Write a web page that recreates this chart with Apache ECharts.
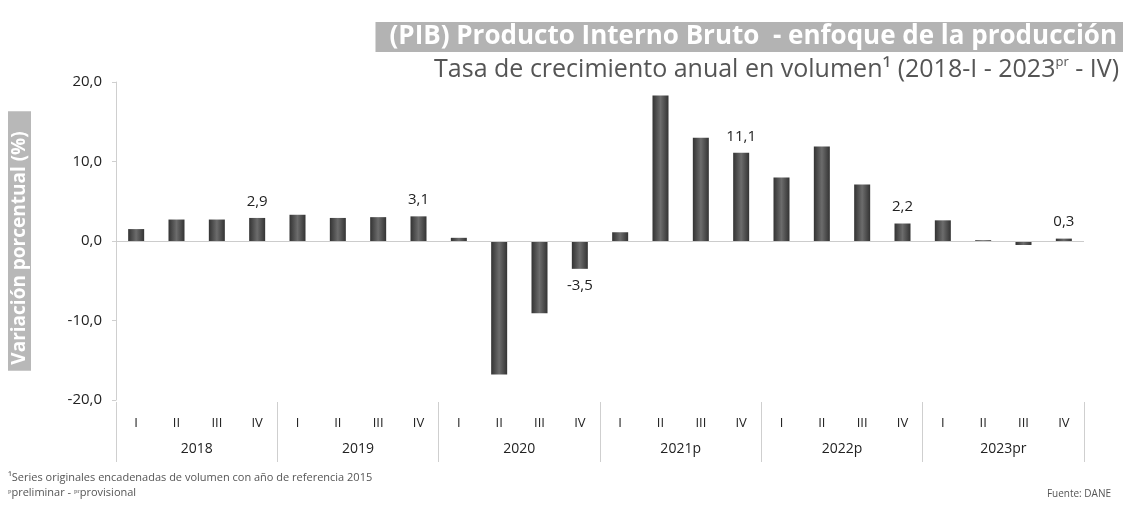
<!DOCTYPE html>
<html>
<head>
<meta charset="utf-8">
<script src="https://cdn.jsdelivr.net/npm/echarts@6/dist/echarts.min.js"></script>
<style>
html,body{margin:0;padding:0;background:#fff;}
#chart{width:1123px;height:506px;}
</style>
</head>
<body>
<div id="chart"></div>
<script>
const years = ['2018', '2019', '2020', '2021p', '2022p', '2023pr'];
const quarters = ['I', 'II', 'III', 'IV'];
const growth = [
  1.5, 2.7, 2.7, 2.9,
  3.3, 2.9, 3.0, 3.1,
  0.4, -16.8, -9.1, -3.5,
  1.1, 18.3, 13.0, 11.1,
  8.0, 11.9, 7.1, 2.2,
  2.6, 0.1, -0.5, 0.3
];
const yTicks = { min: -20, max: 20, interval: 10 };
const labeledQuarter = 'IV';

const categories = [];
years.forEach(y => quarters.forEach(q => categories.push(y + '|' + q)));

const fmt = v => v.toFixed(1).replace('.', ',');

const barData = growth.map((v, i) => {
  const q = categories[i].split('|')[1];
  const show = q === labeledQuarter;
  return {
    value: v,
    label: {
      show: show,
      position: v < 0 ? 'bottom' : 'top',
      distance: 9
    }
  };
});

const chart = echarts.init(document.getElementById('chart'), null, { renderer: 'canvas' });
const barGrad = new echarts.graphic.LinearGradient(0, 0, 1, 0, [
  { offset: 0, color: '#333333' },
  { offset: 0.5, color: '#6c6c6c' },
  { offset: 1, color: '#333333' }
]);

chart.setOption({
  backgroundColor: '#ffffff',
  animation: false,
  title: [
    {
      text: '(PIB) Producto Interno Bruto  - enfoque de la producción',
      right: 0,
      top: 22,
      backgroundColor: '#b3b3b3',
      padding: [1, 6, 1, 14],
      textStyle: {
        color: '#ffffff',
        fontFamily: 'Open Sans',
        fontWeight: 'bold',
        fontSize: 26,
        lineHeight: 28
      }
    },
    {
      text: 'Tasa de crecimiento anual en volumen¹ (2018-I - 2023{sup|pr} - IV)',
      right: 4,
      top: 56,
      padding: 0,
      textStyle: {
        color: '#555555',
        fontFamily: 'Open Sans',
        fontWeight: 'normal',
        fontSize: 25,
        rich: {
          sup: { fontSize: 13, color: '#555555', fontFamily: 'Open Sans', padding: [0, 0, 14, 0] }
        }
      }
    }
  ],
  grid: { left: 110, right: 39, top: 82, bottom: 106, containLabel: false },
  xAxis: [
    {
      type: 'category',
      data: categories,
      position: 'bottom',
      axisLine: { show: false },
      axisTick: { show: false },
      axisLabel: {
        interval: 0,
        margin: 17,
        fontSize: 13,
        color: '#222222',
        fontFamily: 'Open Sans',
        formatter: v => v.split('|')[1]
      }
    },
    {
      type: 'category',
      data: years,
      position: 'bottom',
      offset: 62,
      axisLine: { show: false },
      axisTick: { show: true, inside: true, length: 60, interval: 0, lineStyle: { color: '#cfcfcf', width: 1 } },
      axisLabel: {
        inside: true,
        interval: 0,
        margin: 6,
        fontSize: 14,
        color: '#222222',
        fontFamily: 'Open Sans'
      }
    }
  ],
  yAxis: {
    type: 'value',
    min: yTicks.min,
    max: yTicks.max,
    interval: yTicks.interval,
    name: 'Variación porcentual (%)',
    nameLocation: 'middle',
    nameRotate: 90,
    nameGap: 85,
    nameTextStyle: {
      color: '#ffffff',
      fontSize: 19,
      fontFamily: 'Open Sans',
      fontWeight: 'bold',
      backgroundColor: '#b8b8b8',
      padding: [2, 20, 2, 6]
    },
    axisLine: { show: true, lineStyle: { color: '#cfcfcf', width: 1 } },
    axisTick: { show: true, length: 4, lineStyle: { color: '#cfcfcf' } },
    splitLine: { show: false },
    axisLabel: {
      margin: 14,
      fontSize: 15,
      color: '#222222',
      fontFamily: 'Open Sans',
      formatter: v => fmt(v)
    }
  },
  series: [
    {
      type: 'bar',
      xAxisIndex: 0,
      data: barData,
      barWidth: 16,
      itemStyle: { color: barGrad },
      label: {
        fontSize: 15,
        color: '#222222',
        fontFamily: 'Open Sans',
        formatter: p => fmt(p.value)
      },
      markLine: {
        silent: true,
        symbol: 'none',
        label: { show: false },
        lineStyle: { color: '#cccccc', type: 'solid', width: 1 },
        data: [{ yAxis: 0 }]
      }
    }
  ],
  graphic: [
    {
      type: 'text',
      left: 8,
      top: 472,
      style: {
        text: '¹Series originales encadenadas de volumen con año de referencia 2015',
        fontSize: 11,
        fontFamily: 'Open Sans',
        fill: '#555555'
      }
    },
    {
      type: 'text',
      left: 8,
      top: 487,
      style: {
        text: 'ᵖpreliminar - ᵖʳprovisional',
        fontSize: 11,
        fontFamily: 'Open Sans',
        fill: '#555555'
      }
    },
    {
      type: 'text',
      right: 12,
      top: 489,
      style: {
        text: 'Fuente: DANE',
        fontSize: 10,
        fontFamily: 'Open Sans',
        fill: '#555555'
      }
    }
  ]
});
</script>
</body>
</html>
